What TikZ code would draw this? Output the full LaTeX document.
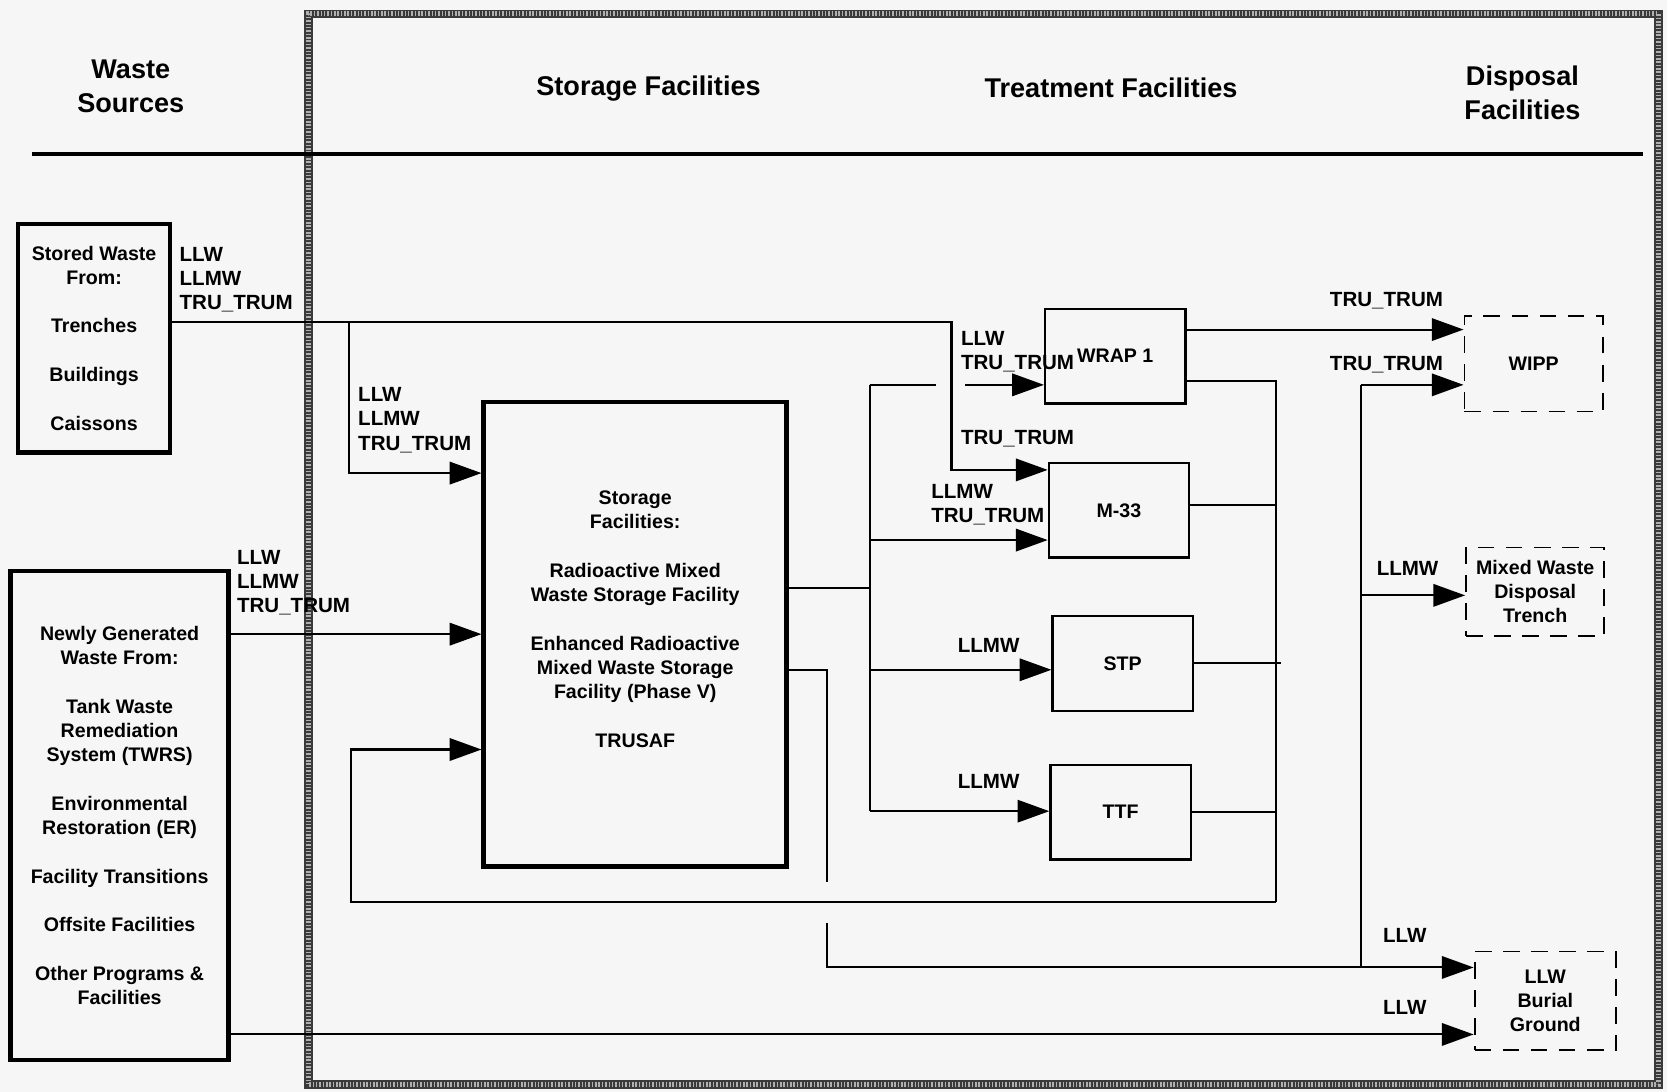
\documentclass[tikz,border=0pt]{standalone}
\usepackage{fontspec}
\setmainfont{Liberation Sans}
\usepackage{tikz}
\usetikzlibrary{arrows.meta,positioning,calc}
\definecolor{FrameDark}{HTML}{3A3A3A}
\definecolor{FrameDot}{HTML}{B0B0B0}
\definecolor{PaperBack}{HTML}{F6F6F6}

\begin{document}
\begin{tikzpicture}[font=\bfseries\fontsize{10.5}{13}\selectfont,
  >={Triangle[length=17pt,width=12pt]},line width=1.1pt,
  srcbox/.style={draw,line width=2.4pt,align=center,inner sep=2pt},
  trtbox/.style={draw,line width=1.2pt,align=center,minimum width=2.64cm,minimum height=1.78cm},
  dspbox/.style={draw,line width=1pt,dash pattern=on 9pt off 6pt,align=center,inner sep=2pt,
    minimum width=2.6cm,minimum height=1.8cm},
  flow/.style={font=\bfseries\fontsize{11}{13}\selectfont,align=left,anchor=west,inner sep=0pt},
  head/.style={font=\bfseries\fontsize{14.5}{18}\selectfont,align=center}]
\fill[PaperBack] (0,0) rectangle (31.36,20.54);
\useasboundingbox (0,0) rectangle (31.36,20.54);
% frame and header rule
\draw[line width=4.5pt,FrameDark] (5.8,0.14) rectangle (31.2,20.28);
\draw[line width=2.6pt,FrameDot,dash pattern=on 0.8pt off 1pt] (5.8,0.14) rectangle (31.2,20.28);
\draw[line width=2.4pt] (0.6,17.64) -- (30.9,17.64);
\node[head] (srchead) at (2.46,18.92) {Waste\\Sources};
\node[head] (stohead) at (12.2,18.88) {Storage Facilities};
\node[head] (trthead) at (20.9,18.88) {Treatment Facilities};
\node[head] (dsphead) at (28.64,18.79) {Disposal\\Facilities};
% sources
\node[srcbox,minimum width=2.86cm,minimum height=4.3cm] (stored) at (1.77,14.18)
  {Stored Waste\\From:\\[13pt]Trenches\\[13pt]Buildings\\[13pt]Caissons};
\node[srcbox,minimum width=4.1cm,minimum height=9.2cm] (newly) at (2.25,5.2)
  {Newly Generated\\Waste From:\\[13pt]Tank Waste\\Remediation\\System (TWRS)\\[13pt]Environmental\\Restoration (ER)\\[13pt]Facility Transitions\\[13pt]Offsite Facilities\\[13pt]Other Programs \&\\Facilities};
% storage
\node[srcbox,minimum width=5.7cm,minimum height=8.74cm] (storage) at (11.95,8.61) {};
\node[align=center] (storagetxt) at (11.95,8.89)
  {Storage\\Facilities:\\[13pt]Radioactive Mixed\\Waste Storage Facility\\[13pt]Enhanced Radioactive\\Mixed Waste Storage\\Facility (Phase V)\\[13pt]TRUSAF};
% treatment
\node[trtbox] (wrap) at (20.98,13.84) {WRAP 1};
\node[trtbox] (mthree) at (21.05,10.94) {M-33};
\node[trtbox] (stp) at (21.12,8.06) {STP};
\node[trtbox] (ttf) at (21.08,5.26) {TTF};
% disposal
\node[dspbox] (wipp) at (28.85,13.7) {WIPP};
\node[dspbox,minimum height=1.66cm] (trench) at (28.88,9.41) {Mixed Waste\\Disposal\\Trench};
\node[dspbox,minimum width=2.66cm,minimum height=1.86cm] (burial) at (29.07,1.71) {LLW\\Burial\\Ground};
% junctions
\coordinate (split) at (6.56,14.48);
\coordinate (turn) at (17.9,14.48);
\coordinate (back) at (24.0,3.58);
\coordinate (dtop) at (16.36,13.3);
\coordinate (dbot) at (16.36,5.28);
\coordinate (etop) at (25.6,13.3);
\coordinate (ebot) at (25.6,2.34);
% stored waste flows
\draw[->] (stored.east |- split) -- (turn) -- (17.9,11.7) -- (mthree.west |- 0,11.7);
\draw[->] (split) |- (storage.west |- 0,11.64);
\draw[->] (newly.east |- storage.west) -- (storage.west);
\draw[->] (newly.east |- 0,1.08) -- (burial.west |- 0,1.08);
% return loop
\draw[->] (back) -- (6.6,3.58) |- (storage.west |- 0,6.44);
% storage to treatment
\draw (storage.east |- 0,9.48) -- (16.36,9.48);
\draw (dtop) -- (dbot);
\draw (dtop) -- (17.6,13.3);
\draw[->] (18.16,13.3) -- (wrap.west |- dtop);
\draw[->] (16.36,10.38) -- (mthree.west |- 0,10.38);
\draw[->] (16.36,7.94) -- (stp.west |- 0,7.94);
\draw[->] (dbot) -- (ttf.west |- dbot);
\draw (storage.east |- 0,7.94) -- (15.56,7.94) -- (15.56,3.94);
\draw[->] (15.56,3.18) |- (burial.west |- ebot);
% treatment outputs
\draw[->] (wrap.east |- 0,14.34) -- (wipp.west |- 0,14.34);
\draw (wrap.east |- 0,13.38) -- (24.0,13.38) -- (back);
\draw (mthree.east |- 0,11.04) -- (24.0,11.04);
\draw (stp.east) -- (stp.east -| 24.1,0);
\draw (ttf.east) -- (ttf.east -| back);
% disposal feeds
\draw (ebot) -- (etop);
\draw[->] (etop) -- (wipp.west |- etop);
\draw[->] (25.6,9.34) -- (trench.west |- 0,9.34);
% flow labels
\node[flow] (lbstored) at (3.36,15.28) {LLW\\LLMW\\TRU\_TRUM};
\node[flow] (lbsplit) at (6.72,12.64) {LLW\\LLMW\\TRU\_TRUM};
\node[flow] (lbnewly) at (4.44,9.58) {LLW\\LLMW\\TRU\_TRUM};
\node[flow] (lbwrap) at (18.06,13.92) {LLW\\TRU\_TRUM};
\node[flow] (lbmthreea) at (18.06,12.28) {TRU\_TRUM};
\node[flow] (lbmthreeb) at (17.5,11.04) {LLMW\\TRU\_TRUM};
\node[flow] (lbstp) at (18.0,8.4) {LLMW};
\node[flow] (lbttf) at (18.0,5.84) {LLMW};
\node[flow] (lbwippa) at (25.0,14.88) {TRU\_TRUM};
\node[flow] (lbwippb) at (25.0,13.68) {TRU\_TRUM};
\node[flow] (lbtrench) at (25.88,9.84) {LLMW};
\node[flow] (lbburiala) at (26.0,2.94) {LLW};
\node[flow] (lbburialb) at (26.0,1.58) {LLW};
\end{tikzpicture}
\end{document}
